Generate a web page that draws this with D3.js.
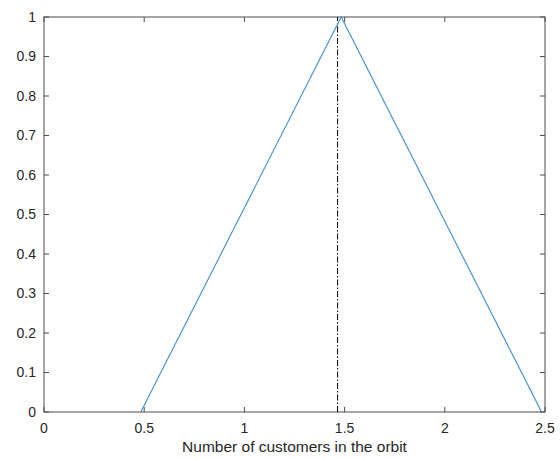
<!DOCTYPE html>
<html>
<head>
<meta charset="utf-8">
<script src="https://cdn.jsdelivr.net/npm/d3@7"></script>
<style>
  body { margin: 0; background: #fff; }
  svg { display: block; font-family: "Liberation Sans", Arial, sans-serif; }
</style>
</head>
<body>
<svg id="chart" width="560" height="459"></svg>
<script>
// triangle membership function + marker line
const triX = [0.483, 1.483, 2.483];
const triY = [0, 1, 0];
const markX = [1.465, 1.465];
const markY = [0, 1];
const xTicks = [0, 0.5, 1, 1.5, 2, 2.5];
const yTicks = [0, 0.1, 0.2, 0.3, 0.4, 0.5, 0.6, 0.7, 0.8, 0.9, 1];

const svg = d3.select("#chart");
const mLeft = 44, mRight = 545, mTop = 17, mBottom = 412;

const x = d3.scaleLinear().domain([0, 2.5]).range([mLeft, mRight]);
const y = d3.scaleLinear().domain([0, 1]).range([mBottom, mTop]);

const axisCol = "#4d4d4d";
const tickLen = 5;

// box
svg.append("rect")
  .attr("x", mLeft).attr("y", mTop)
  .attr("width", mRight - mLeft).attr("height", mBottom - mTop)
  .attr("fill", "none").attr("stroke", axisCol).attr("stroke-width", 1);

// ticks (inward, mirrored)
const g = svg.append("g").attr("stroke", axisCol).attr("stroke-width", 1);
xTicks.forEach(t => {
  g.append("line").attr("x1", x(t)).attr("x2", x(t)).attr("y1", mBottom).attr("y2", mBottom - tickLen);
  g.append("line").attr("x1", x(t)).attr("x2", x(t)).attr("y1", mTop).attr("y2", mTop + tickLen);
});
yTicks.forEach(t => {
  g.append("line").attr("x1", mLeft).attr("x2", mLeft + tickLen).attr("y1", y(t)).attr("y2", y(t));
  g.append("line").attr("x1", mRight).attr("x2", mRight - tickLen).attr("y1", y(t)).attr("y2", y(t));
});

// tick labels
svg.append("g")
  .selectAll("text")
  .data(xTicks)
  .join("text")
  .attr("x", d => x(d))
  .attr("y", mBottom + 21)
  .attr("text-anchor", "middle")
  .attr("font-size", 14)
  .attr("fill", "#262626")
  .text(d => d);

svg.append("g")
  .selectAll("text")
  .data(yTicks)
  .join("text")
  .attr("x", mLeft - 8)
  .attr("y", d => y(d))
  .attr("dy", "0.35em")
  .attr("text-anchor", "end")
  .attr("font-size", 14)
  .attr("fill", "#262626")
  .text(d => d);

// x label
svg.append("text")
  .attr("x", (mLeft + mRight) / 2)
  .attr("y", mBottom + 40)
  .attr("text-anchor", "middle")
  .attr("font-size", 15.5)
  .attr("fill", "#262626")
  .text("Number of customers in the orbit");

const line = d3.line().x(d => x(d[0])).y(d => y(d[1]));

// dash-dot marker
svg.append("path")
  .datum(d3.zip(markX, markY))
  .attr("d", line)
  .attr("fill", "none")
  .attr("stroke", "#000")
  .attr("stroke-width", 1)
  .attr("stroke-dasharray", "6,2,1.5,2");

// triangle
svg.append("path")
  .datum(d3.zip(triX, triY))
  .attr("d", line)
  .attr("fill", "none")
  .attr("stroke", "#3a8fd0")
  .attr("stroke-width", 1.1);
</script>
</body>
</html>
